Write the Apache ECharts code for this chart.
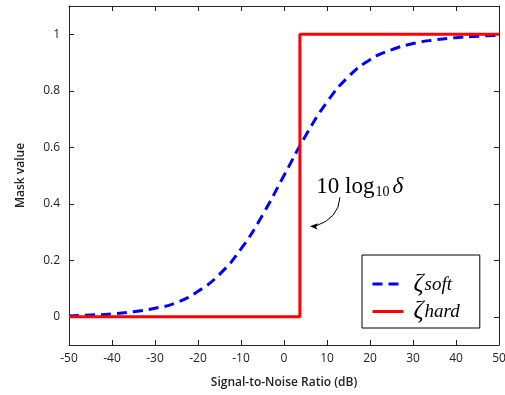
<!DOCTYPE html>
<html>
<head>
<meta charset="utf-8">
<script src="https://cdn.jsdelivr.net/npm/echarts@6/dist/echarts.min.js"></script>
<style>
  html, body { margin: 0; padding: 0; background: #fff; }
  #chart { width: 505px; height: 395px; }
</style>
</head>
<body>
<div id="chart"></div>
<script>
// SNR grid (dB) and soft mask
const snr = [-50, -45, -40, -35, -30, -25, -20, -15, -10, -5, 0, 5, 10, 15, 20, 25, 30, 35, 40, 45, 50];
const softMask = [0.003, 0.006, 0.01, 0.018, 0.03, 0.05, 0.09, 0.15, 0.24, 0.36, 0.5, 0.64, 0.76, 0.85, 0.91, 0.945, 0.967, 0.98, 0.988, 0.993, 0.996];

// hard mask: step at 10 log10(delta)
const hardSnr = [-50, 3.7, 3.7, 50];
const hardMask = [0, 0, 1, 1];

const yTicks = [0, 0.2, 0.4, 0.6, 0.8, 1];

const chart = echarts.init(document.getElementById('chart'));
const axisColor = '#222';
const labelFont = { color: '#222', fontSize: 12, fontFamily: 'Open Sans' };

const xBase = {
  type: 'value',
  min: -50,
  max: 50,
  interval: 10,
  axisLine: { show: true, onZero: false, lineStyle: { color: axisColor, width: 1 } },
  axisTick: { show: true, inside: true, length: 5, lineStyle: { color: axisColor } },
  splitLine: { show: false }
};
const yBase = {
  type: 'value',
  min: -0.1,
  max: 1.1,
  axisLine: { show: true, onZero: false, lineStyle: { color: axisColor, width: 1 } },
  axisTick: { show: true, inside: true, length: 5, customValues: yTicks, lineStyle: { color: axisColor } },
  splitLine: { show: false }
};

chart.setOption({
  animation: false,
  backgroundColor: '#fff',
  grid: { left: 69, right: 6, top: 6, bottom: 50, outerBoundsMode: 'none', containLabel: false },
  xAxis: [
    Object.assign({}, xBase, {
      position: 'bottom',
      name: 'Signal-to-Noise Ratio (dB)',
      nameLocation: 'middle',
      nameGap: 32,
      nameTextStyle: { color: '#222', fontSize: 12, fontWeight: 600, fontFamily: 'Open Sans' },
      axisLabel: Object.assign({ margin: 8 }, labelFont)
    }),
    Object.assign({}, xBase, { position: 'top', axisLabel: { show: false } })
  ],
  yAxis: [
    Object.assign({}, yBase, {
      position: 'left',
      name: 'Mask value',
      nameLocation: 'middle',
      nameGap: 42,
      nameTextStyle: { color: '#222', fontSize: 12, fontWeight: 600, fontFamily: 'Open Sans' },
      axisLabel: Object.assign({ margin: 9, customValues: yTicks }, labelFont)
    }),
    Object.assign({}, yBase, { position: 'right', axisLabel: { show: false } })
  ],
  legend: {
    orient: 'vertical',
    left: 362,
    top: 255,
    backgroundColor: '#fff',
    borderColor: '#000',
    borderWidth: 1,
    borderRadius: 0,
    padding: [14, 20, 4, 9],
    itemWidth: 31,
    itemHeight: 14,
    itemGap: 0,
    data: ['soft', 'hard'],
    itemStyle: { opacity: 0 },
    lineStyle: { width: 3 },
    formatter: name => '{z|ζ}{s|' + name + '}',
    textStyle: {
      padding: [0, 0, 0, 5],
      rich: {
        z: { fontFamily: 'Liberation Serif', fontStyle: 'italic', fontSize: 25, color: '#000', lineHeight: 20 },
        s: { fontFamily: 'Liberation Serif', fontStyle: 'italic', fontSize: 19, color: '#000', lineHeight: 20, verticalAlign: 'bottom', padding: [6, 0, 0, 1] }
      }
    }
  },
  series: [
    {
      name: 'soft',
      type: 'line',
      smooth: true,
      symbol: 'none',
      data: snr.map((x, i) => [x, softMask[i]]),
      lineStyle: { color: '#0000ff', width: 3, type: [10, 6] },
      itemStyle: { color: '#0000ff' },
      z: 2
    },
    {
      name: 'hard',
      type: 'line',
      symbol: 'none',
      data: hardSnr.map((x, i) => [x, hardMask[i]]),
      lineStyle: { color: '#ff0000', width: 3 },
      itemStyle: { color: '#ff0000' },
      z: 3
    }
  ]
});

// annotation for the step position
const tip = chart.convertToPixel({ xAxisIndex: 0, yAxisIndex: 0 }, [6.5, 0.32]);
const txt = chart.convertToPixel({ xAxisIndex: 0, yAxisIndex: 0 }, [7.5, 0.46]);
chart.setOption({
  graphic: [
    {
      type: 'text',
      x: txt[0],
      y: txt[1],
      style: {
        text: '{n|10 log}{sub|10}{d|δ}',
        verticalAlign: 'middle',
        rich: {
          n: { fontFamily: 'Liberation Serif', fontSize: 23, fill: '#000', lineHeight: 26 },
          sub: { fontFamily: 'Liberation Serif', fontSize: 14, fill: '#000', lineHeight: 26, verticalAlign: 'bottom', padding: [8, 0, 0, 1] },
          d: { fontFamily: 'Liberation Serif', fontStyle: 'italic', fontSize: 23, fill: '#000', lineHeight: 26, padding: [0, 0, 0, 3] }
        }
      }
    },
    {
      type: 'bezierCurve',
      shape: { x1: tip[0] + 28, y1: tip[1] - 29, cpx1: tip[0] + 27, cpy1: tip[1] - 8, x2: tip[0] + 3, y2: tip[1] },
      style: { stroke: '#000', lineWidth: 1, fill: null }
    },
    {
      type: 'polygon',
      shape: { points: [[tip[0] - 2, tip[1]], [tip[0] + 6, tip[1] - 3], [tip[0] + 4, tip[1] + 1], [tip[0] + 6, tip[1] + 3.5]] },
      style: { fill: '#000' }
    }
  ]
});
</script>
</body>
</html>
